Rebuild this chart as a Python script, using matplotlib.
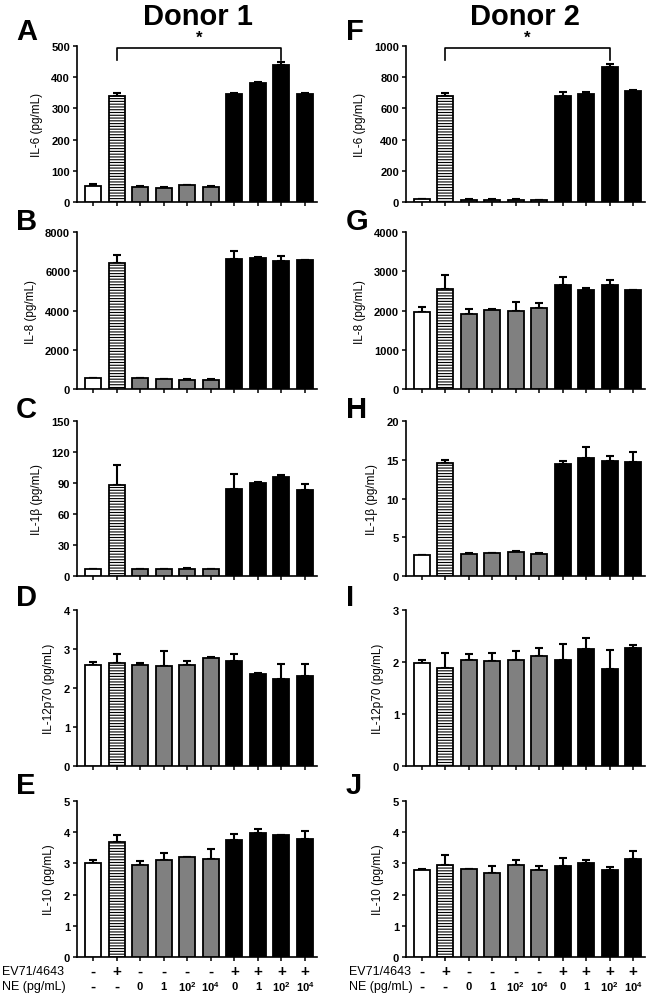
import numpy as np
import matplotlib
matplotlib.use("Agg")
import matplotlib.pyplot as plt
from matplotlib.transforms import blended_transform_factory

plt.rcParams['font.family'] = ['Liberation Sans', 'DejaVu Sans']
plt.rcParams['mathtext.fontset'] = 'custom'
plt.rcParams['mathtext.rm'] = 'Liberation Sans'
plt.rcParams['mathtext.bf'] = 'Liberation Sans:bold'
plt.rcParams['hatch.linewidth'] = 0.8

# conditions (10 bars per panel)
ev71_labels = ['-', '+', '-', '-', '-', '-', '+', '+', '+', '+']
ne_labels = ['-', '-', '0', '1', r'$\mathbf{10^{2}}$', r'$\mathbf{10^{4}}$',
             '0', '1', r'$\mathbf{10^{2}}$', r'$\mathbf{10^{4}}$']

# Donor 1 (mean, SEM)
il6_d1 = [50, 340, 48, 46, 53, 48, 345, 381, 439, 345]
il6_d1_err = [7, 10, 3, 3, 2, 2, 5, 3, 11, 3]
il8_d1 = [545, 6430, 545, 510, 480, 480, 6600, 6690, 6520, 6570]
il8_d1_err = [20, 380, 20, 20, 20, 20, 410, 35, 255, 20]
il1b_d1 = [6.5, 88.4, 6.5, 6.5, 7.1, 6.5, 83.9, 90.0, 95.8, 82.9]
il1b_d1_err = [0.6, 19.3, 0.5, 0.5, 0.5, 0.5, 15.1, 0.6, 2.2, 6.1]
il12_d1 = [2.60, 2.63, 2.59, 2.56, 2.60, 2.78, 2.69, 2.36, 2.24, 2.30]
il12_d1_err = [0.06, 0.23, 0.05, 0.38, 0.09, 0.01, 0.19, 0.02, 0.37, 0.31]
il10_d1 = [3.02, 3.69, 2.96, 3.12, 3.21, 3.13, 3.76, 3.99, 3.90, 3.77]
il10_d1_err = [0.08, 0.22, 0.13, 0.21, 0.01, 0.32, 0.18, 0.12, 0.02, 0.26]

# Donor 2 (mean, SEM)
il6_d2 = [17, 677, 15, 15, 15, 12, 681, 694, 868, 713]
il6_d2_err = [2, 21, 2, 2, 2, 2, 21, 10, 17, 6]
il8_d2 = [1957, 2536, 1923, 2009, 1983, 2051, 2638, 2519, 2647, 2519]
il8_d2_err = [137, 358, 103, 17, 238, 136, 222, 51, 119, 11]
il1b_d2 = [2.72, 14.55, 2.85, 2.94, 3.15, 2.89, 14.47, 15.2, 14.85, 14.7]
il1b_d2_err = [0.05, 0.43, 0.15, 0.05, 0.13, 0.11, 0.38, 1.4, 0.65, 1.3]
il12_d2 = [1.98, 1.89, 2.04, 2.01, 2.03, 2.11, 2.03, 2.25, 1.87, 2.27]
il12_d2_err = [0.06, 0.28, 0.11, 0.17, 0.18, 0.15, 0.31, 0.21, 0.37, 0.06]
il10_d2 = [2.80, 2.94, 2.81, 2.70, 2.96, 2.80, 2.92, 3.02, 2.80, 3.15]
il10_d2_err = [0.01, 0.34, 0.01, 0.22, 0.14, 0.13, 0.26, 0.10, 0.08, 0.24]

ylabels = ['IL-6 (pg/mL)', 'IL-8 (pg/mL)', 'IL-1β (pg/mL)', 'IL-12p70 (pg/mL)', 'IL-10 (pg/mL)']
donor1 = [(il6_d1, il6_d1_err), (il8_d1, il8_d1_err), (il1b_d1, il1b_d1_err),
          (il12_d1, il12_d1_err), (il10_d1, il10_d1_err)]
donor2 = [(il6_d2, il6_d2_err), (il8_d2, il8_d2_err), (il1b_d2, il1b_d2_err),
          (il12_d2, il12_d2_err), (il10_d2, il10_d2_err)]
yticks1 = [np.arange(0, 501, 100), np.arange(0, 8001, 2000), np.arange(0, 151, 30),
           np.arange(0, 5, 1), np.arange(0, 6, 1)]
yticks2 = [np.arange(0, 1001, 200), np.arange(0, 4001, 1000), np.arange(0, 21, 5),
           np.arange(0, 4, 1), np.arange(0, 6, 1)]
letters1 = ['A', 'B', 'C', 'D', 'E']
letters2 = ['F', 'G', 'H', 'I', 'J']

W, H = 649, 1004
fig = plt.figure(figsize=(W / 100, H / 100), dpi=100)

# panel pixel boxes: (top, bottom)
rows = [(47, 203), (233, 390), (422, 577), (611, 767), (802, 958)]
cols = [(77, 317), (406, 645)]
letter_y = [32, 222, 410, 598, 786]
letter_x = [16, 346]

fills = ['white', 'white', '#808080', '#808080', '#808080', '#808080',
         'black', 'black', 'black', 'black']
hatches = [None, '------', None, None, None, None, None, None, None, None]

x = np.arange(10)


def draw_panel(ax, vals, errs, yt, ylabel):
    for i in range(10):
        ax.bar(x[i], vals[i], width=0.68, color=fills[i], edgecolor='black',
               linewidth=1.3, hatch=hatches[i], zorder=3)
    ax.errorbar(x, vals, yerr=[np.zeros(10), errs], fmt='none', ecolor='black',
                elinewidth=1.5, capsize=3.2, capthick=1.5, zorder=2)
    ax.set_xlim(-0.68, 9.51)
    ax.set_ylim(yt[0], yt[-1])
    ax.set_yticks(yt)
    ax.set_yticklabels([str(v) for v in yt], fontsize=8, fontweight='bold')
    ax.set_xticks(x)
    ax.set_xticklabels([])
    ax.tick_params(axis='both', direction='out', length=3, width=1.1, pad=2)
    for s in ['top', 'right']:
        ax.spines[s].set_visible(False)
    for s in ['left', 'bottom']:
        ax.spines[s].set_linewidth(1.2)
    ax.set_ylabel(ylabel, fontsize=8.5, labelpad=6)


axes = [[], []]
for c, (donor, yts, letters) in enumerate([(donor1, yticks1, letters1), (donor2, yticks2, letters2)]):
    x0, x1 = cols[c]
    for r, (top, bot) in enumerate(rows):
        ax = fig.add_axes([x0 / W, 1 - bot / H, (x1 - x0) / W, (bot - top) / H])
        vals, errs = donor[r]
        draw_panel(ax, vals, errs, yts[r], ylabels[r])
        axes[c].append(ax)
        fig.text(letter_x[c] / W, 1 - letter_y[r] / H, letters[r], fontsize=21,
                 fontweight='bold', ha='left', va='center')

fig.text(198 / W, 1 - 17 / H, 'Donor 1', fontsize=21, fontweight='bold', ha='center', va='center')
fig.text(525 / W, 1 - 17 / H, 'Donor 2', fontsize=21, fontweight='bold', ha='center', va='center')

# significance brackets (EV71 alone vs EV71 + NE 10^2)
for ax, ytop in [(axes[0][0], 500), (axes[1][0], 1000)]:
    yb = ytop * 0.99
    yl = ytop * 0.91
    ax.plot([1, 1, 8, 8], [yl, yb, yb, yl], color='black', lw=1.2, clip_on=False, zorder=4)
    ax.text(4.5, ytop * 1.01, '*', fontsize=12, fontweight='bold', ha='center', va='bottom')

# condition labels under bottom panels
label_x = [2, 349]
for c in range(2):
    ax = axes[c][-1]
    tr = blended_transform_factory(ax.transData, fig.transFigure)
    fig.text(label_x[c] / W, 1 - 972 / H, 'EV71/4643', fontsize=9, ha='left', va='center')
    fig.text(label_x[c] / W, 1 - 987 / H, 'NE (pg/mL)', fontsize=9, ha='left', va='center')
    for i in range(10):
        ax.text(x[i], 1 - 972 / H, ev71_labels[i], transform=tr, fontsize=11,
                fontweight='bold', ha='center', va='center')
        ne = ne_labels[i]
        ax.text(x[i], 1 - 987 / H, ne, transform=tr,
                fontsize=11 if ne == '-' else 8, fontweight='bold', ha='center', va='center')

fig.savefig('out.png', dpi=100)
